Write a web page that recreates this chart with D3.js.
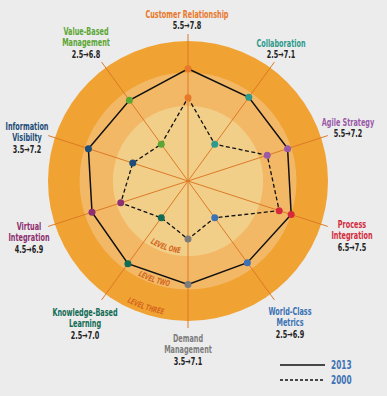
<!DOCTYPE html>
<html>
<head>
<meta charset="utf-8">
<script src="https://cdn.jsdelivr.net/npm/d3@7"></script>
<style>
  html, body { margin: 0; padding: 0; background: #ececec; }
  svg { display: block; }
  text { font-family: "DejaVu Sans Condensed", "Liberation Sans Narrow", sans-serif; font-weight: bold; }
</style>
</head>
<body>
<div id="chart"></div>
<script>
// dimensions (clockwise from the top)
var dimensions = ["Customer Relationship", "Collaboration", "Agile Strategy", "Process Integration",
  "World-Class Metrics", "Demand Management", "Knowledge-Based Learning", "Virtual Integration",
  "Information Visibilty", "Value-Based Management"]
// label lines as printed
var labelLines = [["Customer Relationship"], ["Collaboration"], ["Agile Strategy"], ["Process", "Integration"],
  ["World-Class", "Metrics"], ["Demand", "Management"], ["Knowledge-Based", "Learning"], ["Virtual", "Integration"],
  ["Information", "Visibilty"], ["Value-Based", "Management"]]
var labelColors = ["#e8782a", "#2e9a8c", "#9a5aa8", "#d42a3c", "#3c72b4", "#7c7c7c", "#116b55", "#8d2f70", "#1d4d78", "#5ba634"]
var values2000 = [5.5, 2.5, 5.5, 6.5, 2.5, 3.5, 2.5, 4.5, 3.5, 2.5]
var values2013 = [7.8, 7.1, 7.2, 7.5, 6.9, 7.1, 7.0, 6.9, 7.2, 6.8]
var levels = [{name: "LEVEL THREE", v: 10, fill: "#f0a232"},
              {name: "LEVEL TWO", v: 7.5, fill: "#f2b866"},
              {name: "LEVEL ONE", v: 4.85, fill: "#f2cf89"}]
var series = ["2013", "2000"]

const width = 387, height = 396
const cx = 188, cy = 181
const r = d3.scaleLinear().domain([0, 10]).range([14, 140])
const angle = d3.scaleLinear().domain([0, dimensions.length]).range([0, 2 * Math.PI])

// point at radius rad on axis i
var pt = function(i, rad) {
    let a = angle(i)
    return [cx + rad * Math.sin(a), cy - rad * Math.cos(a)]
}

let svg = d3.select("#chart").append("svg")
    .attr("width", width).attr("height", height)

// the printed font is a narrow gothic: squeeze our font to the same width
let probe = svg.append("text").attr("font-size", 10.5).text("Customer Relationship")
const squeeze = 83 / probe.node().getComputedTextLength()
probe.remove()

// rings
svg.append("g").selectAll("circle")
    .data(levels)
    .enter().append("circle")
    .attr("cx", cx).attr("cy", cy)
    .attr("r", d => r(d.v))
    .attr("fill", d => d.fill)

// level names, curved along the bottom-left of each ring
var levelPos = [{v: 9.65, a: 198.6}, {v: 7.38, a: 199}, {v: 4.65, a: 198.7}]
var arcPath = function(rad, a) {
    let a0 = (a + 45) * Math.PI / 180, a1 = (a - 45) * Math.PI / 180
    return "M" + (cx + rad * Math.sin(a0)) + "," + (cy - rad * Math.cos(a0))
        + " A" + rad + "," + rad + " 0 0 0 " + (cx + rad * Math.sin(a1)) + "," + (cy - rad * Math.cos(a1))
}
let defs = svg.append("defs")
levels.forEach(function(d, i) {
    defs.append("path").attr("id", "lvl" + i).attr("d", arcPath(r(levelPos[i].v), levelPos[i].a))
})
svg.append("g").selectAll("text")
    .data(levels)
    .enter().append("text")
    .attr("font-size", 8).attr("font-style", "italic")
    .attr("fill", "#d4661e")
    .append("textPath")
    .attr("href", (d, i) => "#lvl" + i)
    .attr("startOffset", "50%").attr("text-anchor", "middle")
    .text(d => d.name)
    .each(function() {
        let len = this.getComputedTextLength() * squeeze * 1.05
        d3.select(this).attr("textLength", len).attr("lengthAdjust", "spacingAndGlyphs")
    })

// spokes
svg.append("g").selectAll("line")
    .data(dimensions)
    .enter().append("line")
    .attr("x1", cx).attr("y1", cy)
    .attr("x2", (d, i) => pt(i, 147)[0])
    .attr("y2", (d, i) => pt(i, 147)[1])
    .attr("stroke", "#dc7a26").attr("stroke-width", 1)

// polygons
var line = d3.lineRadial().angle((d, i) => angle(i)).radius(d => r(d)).curve(d3.curveLinearClosed)
svg.append("path").datum(values2000)
    .attr("transform", "translate(" + cx + "," + cy + ")")
    .attr("d", line).attr("fill", "none")
    .attr("stroke", "#111").attr("stroke-width", 1.3).attr("stroke-dasharray", "4,2.5")
svg.append("path").datum(values2013)
    .attr("transform", "translate(" + cx + "," + cy + ")")
    .attr("d", line).attr("fill", "none")
    .attr("stroke", "#111").attr("stroke-width", 1.5)

// dots
;[values2000, values2013].forEach(function(vals) {
    svg.append("g").selectAll("circle")
        .data(vals)
        .enter().append("circle")
        .attr("cx", (d, i) => pt(i, r(d))[0])
        .attr("cy", (d, i) => pt(i, r(d))[1])
        .attr("r", 3.5)
        .attr("fill", (d, i) => labelColors[i])
})

// labels: anchor point of each block (first line baseline)
var labelAnchor = [[187, 18], [281, 47], [348, 126], [352, 228], [290, 315], [188, 342], [85, 316], [29, 230], [27, 130], [86, 35]]
let lab = svg.append("g").selectAll("g")
    .data(dimensions)
    .enter().append("g")
    .attr("transform", (d, i) => "translate(" + labelAnchor[i][0] + "," + labelAnchor[i][1] + ") scale(" + squeeze + ",1)")
lab.each(function(d, i) {
    let g = d3.select(this)
    labelLines[i].forEach(function(t, j) {
        g.append("text").attr("y", j * 11.5)
            .attr("text-anchor", "middle").attr("font-size", 10.5)
            .attr("fill", labelColors[i]).text(t)
    })
    g.append("text").attr("y", labelLines[i].length * 11.5)
        .attr("text-anchor", "middle").attr("font-size", 10.5)
        .attr("fill", "#222").text(values2000[i] + "\u2192" + values2013[i].toFixed(1))
})

// legend
let leg = svg.append("g").selectAll("g")
    .data(series)
    .enter().append("g")
    .attr("transform", (d, i) => "translate(280," + (365 + i * 15) + ")")
leg.append("line").attr("x1", 0).attr("x2", 45)
    .attr("stroke", "#111").attr("stroke-width", 1.3)
    .attr("stroke-dasharray", (d, i) => i ? "3,2" : null)
leg.append("text").attr("transform", "translate(51,0) scale(" + squeeze + ",1)").attr("dy", "0.35em")
    .attr("font-size", 12).attr("fill", "#3c72b4").text(d => d)
</script>
</body>
</html>
